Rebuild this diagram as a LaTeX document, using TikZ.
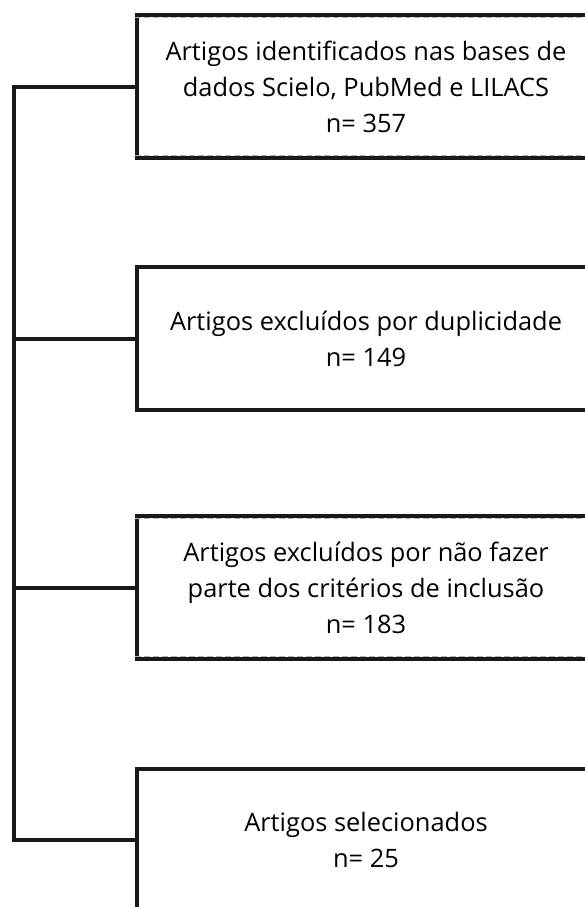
\documentclass[tikz,border=0pt]{standalone}
\usepackage{fontspec}
\setmainfont{Open Sans}
\tikzset{
  caixa/.style={draw=black!90,line width=4pt,minimum width=458pt,minimum height=143pt,
    align=center,font=\fontsize{25.4}{36}\selectfont,inner sep=0pt},
  traco/.style={draw=black!90,line width=4pt},
  tracejado/.style={draw=black!30,line width=1pt,dash pattern=on 6pt off 3pt}
}
\begin{document}
\begin{tikzpicture}[x=1pt,y=-1pt]
    \useasboundingbox (0,0) rectangle (585,907);
    \clip (0,0) rectangle (585,907);

    \node[caixa] (identificados) at (366,86.5) {Artigos identificados nas bases de\\dados Scielo, PubMed e LILACS\\n= 357};
    \node[caixa] (duplicidade) at (366,338.5) {Artigos excluídos por duplicidade\\n= 149};
    \node[caixa] (criterios) at (366,587.5) {Artigos excluídos por não fazer\\parte dos critérios de inclusão\\n= 183};
    \node[caixa] (selecionados) at (366,840) {Artigos selecionados\\n= 25};

    % bordas tracejadas
    \foreach \n in {identificados,criterios}{
      \draw[tracejado] ([yshift=-4.6pt]\n.north west) -- ([yshift=-4.6pt]\n.north east);
      \draw[tracejado] ([yshift=4.6pt]\n.south west) -- ([yshift=4.6pt]\n.south east);
    }

    % linha lateral
    \coordinate (topo) at (13.5,86.5);
    \draw[traco] (identificados.west) -- (topo) |- (selecionados.west);
    \draw[traco] (duplicidade.west) -- (duplicidade.west -| topo);
    \draw[traco] (criterios.west) -- (criterios.west -| topo);
\end{tikzpicture}
\end{document}
